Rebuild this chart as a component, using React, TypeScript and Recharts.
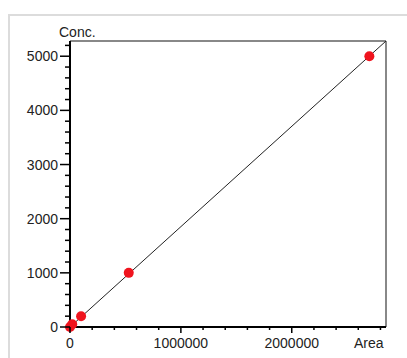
import { ScatterChart, Scatter, XAxis, YAxis, ReferenceLine } from 'recharts'

// calibration points
const areas = [0, 20000, 100000, 530000, 2700000]
const concs = [0, 50, 200, 1000, 5000]

// fitted line, origin to the top right corner of the plot
const fitAreas = [0, 2850000]
const fitConcs = [0, 5281]

const X_MAX = 2850000
const Y_MAX = 5281
const xTicks = [0, 200000, 400000, 600000, 800000, 1000000, 1200000, 1400000, 1600000, 1800000, 2000000, 2200000, 2400000, 2600000, 2800000]
const yTicks = [0, 200, 400, 600, 800, 1000, 1200, 1400, 1600, 1800, 2000, 2200, 2400, 2600, 2800, 3000, 3200, 3400, 3600, 3800, 4000, 4200, 4400, 4600, 4800, 5000, 5200]

const points = areas.map((a, i) => ({ x: a, y: concs[i] }))
const fit = fitAreas.map((a, i) => ({ x: a, y: fitConcs[i] }))

const font = '"Liberation Sans", Arial, sans-serif'

function YTick({ x, y, payload }: any) {
  const major = payload.value % 1000 === 0
  return (
    <g>
      <line x1={x - (major ? 10 : 5)} x2={x} y1={y} y2={y} stroke="#000" strokeWidth={1.5} />
      {major && (
        <text x={x - 12} y={y} dy="0.36em" textAnchor="end" fontSize={14} fontFamily={font} fill="#222">
          {payload.value}
        </text>
      )}
    </g>
  )
}

function XTick({ x, y, payload }: any) {
  const major = payload.value % 1000000 === 0
  return (
    <g>
      <line x1={x} x2={x} y1={y} y2={y + (major ? 6 : 3)} stroke="#000" strokeWidth={1.5} />
      {major && (
        <text x={x} y={y + 21} textAnchor="middle" fontSize={14} fontFamily={font} fill="#222">
          {payload.value}
        </text>
      )}
    </g>
  )
}

export default function App() {
  return (
    <div style={{ position: 'fixed', top: 0, left: 0, width: 407, height: 358, background: '#fff', fontFamily: font }}>
      <div style={{ position: 'absolute', left: 8, top: 14, right: 0, bottom: 0, borderTop: '2px solid #dcdcdc', borderLeft: '2px solid #dcdcdc' }} />
      <ScatterChart width={407} height={358} margin={{ top: 41, right: 21, bottom: 1, left: 10 }} style={{ position: 'absolute', left: 0, top: 0 }}>
        <XAxis
          type="number"
          dataKey="x"
          domain={[0, X_MAX]}
          ticks={xTicks}
          interval={0}
          height={30}
          tickSize={0}
          tickMargin={0}
          tick={<XTick />}
          axisLine={{ stroke: '#000', strokeWidth: 2 }}
        />
        <YAxis
          type="number"
          dataKey="y"
          domain={[0, Y_MAX]}
          ticks={yTicks}
          interval={0}
          width={60}
          tickSize={0}
          tickMargin={0}
          tick={<YTick />}
          axisLine={{ stroke: '#000', strokeWidth: 2 }}
        />
        <ReferenceLine y={Y_MAX} stroke="#888" strokeWidth={2} />
        <ReferenceLine x={X_MAX} stroke="#888" strokeWidth={2} />
        <Scatter
          data={fit}
          line={{ stroke: '#222', strokeWidth: 1 }}
          shape={() => <g />}
          isAnimationActive={false}
        />
        <Scatter
          data={points}
          shape={(p: any) => <circle cx={p.cx} cy={p.cy} r={5} fill="#f0141e" />}
          isAnimationActive={false}
        />
      </ScatterChart>
      <div style={{ position: 'absolute', left: 59, top: 25, fontSize: 14, lineHeight: '14px', color: '#222' }}>Conc.</div>
      <div style={{ position: 'absolute', left: 354, top: 336, fontSize: 14, lineHeight: '14px', color: '#222' }}>Area</div>
    </div>
  )
}
